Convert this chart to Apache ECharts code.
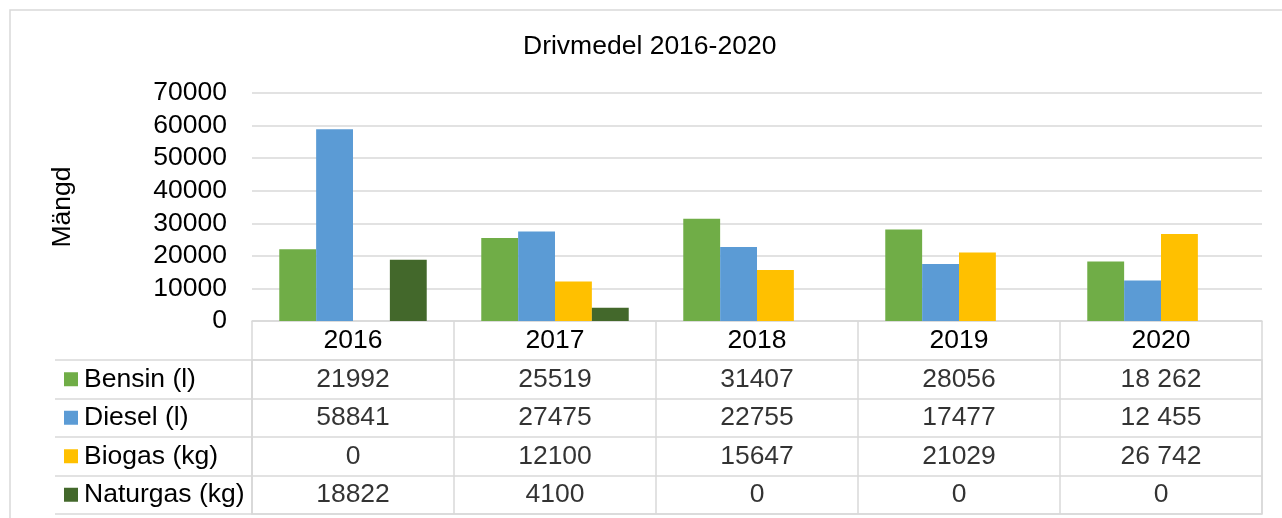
<!DOCTYPE html>
<html>
<head>
<meta charset="utf-8">
<script src="https://cdn.jsdelivr.net/npm/echarts@6/dist/echarts.min.js"></script>
<style>
html,body{margin:0;padding:0;background:#fff;}
#main{width:1282px;height:518px;}
</style>
</head>
<body>
<div id="main"></div>
<script>
var years = ['2016', '2017', '2018', '2019', '2020'];
var names = ['Bensin (l)', 'Diesel (l)', 'Biogas (kg)', 'Naturgas (kg)'];
var bensin = [21992, 25519, 31407, 28056, 18262];
var diesel = [58841, 27475, 22755, 17477, 12455];
var biogas = [0, 12100, 15647, 21029, 26742];
var naturgas = [18822, 4100, 0, 0, 0];
var colors = ['#70ad47', '#5b9bd5', '#ffc000', '#43682b'];
var yTicks = [0, 10000, 20000, 30000, 40000, 50000, 60000, 70000];

var rows = [bensin, diesel, biogas, naturgas];
var lineColor = '#d9d9d9';
var fs = 26.5;

// 2020 column is written with a space as thousands separator in the source
var fmt = function (v, j) {
    var s = String(v);
    if (years[j] == '2020' && s.length > 3) {
        s = s.slice(0, s.length - 3) + ' ' + s.slice(s.length - 3);
    }
    return s;
};

var cells = [];
for (var i = 0; i < rows.length; i++) {
    for (var j = 0; j < years.length; j++) {
        cells.push({ value: [j, i], text: fmt(rows[i][j], j) });
    }
}

var rich = { t: { fontSize: fs, color: '#000', padding: [0, 0, 0, 6] } };
for (var k = 0; k < colors.length; k++) {
    rich['s' + k] = { width: 14, height: 14, backgroundColor: colors[k] };
}

var barSeries = [];
for (var b = 0; b < rows.length; b++) {
    barSeries.push({
        name: names[b],
        type: 'bar',
        xAxisIndex: 0,
        yAxisIndex: 0,
        data: rows[b],
        barGap: 0,
        barCategoryGap: '27%',
        itemStyle: { color: colors[b] }
    });
}

var option = {
    animation: false,
    textStyle: { fontFamily: 'Liberation Sans, Arial, sans-serif' },
    title: {
        text: 'Drivmedel 2016-2020',
        left: 523,
        top: 33,
        padding: 0,
        textStyle: { fontSize: fs, fontWeight: 'normal', color: '#000' }
    },
    graphic: [{
        type: 'rect',
        shape: { x: 10, y: 10, width: 1300, height: 600 },
        style: { fill: 'none', stroke: lineColor, lineWidth: 1.5 },
        silent: true
    }],
    grid: [
        { left: 252, right: 20, top: 93, height: 228 },
        { left: 252, right: 20, top: 360, height: 154, show: true, borderColor: lineColor, borderWidth: 1.5 }
    ],
    xAxis: [
        {
            type: 'category',
            gridIndex: 0,
            data: years,
            axisLine: { lineStyle: { color: lineColor, width: 1.5 } },
            axisTick: { show: true, alignWithLabel: false, interval: 0, length: 39, lineStyle: { color: lineColor, width: 1.5 } },
            axisLabel: { fontSize: fs, color: '#000', margin: 20, verticalAlign: 'middle' }
        },
        {
            type: 'category',
            gridIndex: 1,
            data: years,
            axisLine: { show: false },
            axisTick: { show: false },
            axisLabel: { show: false },
            splitLine: { show: true, interval: 0, lineStyle: { color: lineColor, width: 1.5 } }
        }
    ],
    yAxis: [
        {
            type: 'value',
            gridIndex: 0,
            min: yTicks[0],
            max: yTicks[yTicks.length - 1],
            interval: yTicks[1] - yTicks[0],
            name: 'Mängd',
            nameLocation: 'middle',
            nameGap: 176,
            nameTextStyle: { fontSize: fs, color: '#000' },
            axisLabel: { fontSize: fs, color: '#000', margin: 25, formatter: function (v) { return String(v); } },
            splitLine: { lineStyle: { color: lineColor, width: 1.5 } }
        },
        {
            type: 'category',
            gridIndex: 1,
            inverse: true,
            data: names,
            axisLine: { show: true, lineStyle: { color: lineColor, width: 1.5 } },
            axisTick: { show: true, interval: 0, length: 197, lineStyle: { color: lineColor, width: 1.5 } },
            axisLabel: {
                align: 'left',
                margin: 188,
                formatter: function (value, idx) {
                    return '{s' + idx + '|}{t|' + value + '}';
                },
                rich: rich
            },
            splitLine: { show: true, interval: 0, lineStyle: { color: lineColor, width: 1.5 } }
        },
        {
            type: 'category',
            gridIndex: 1,
            inverse: true,
            data: names,
            offset: 197,
            axisLine: { show: true, lineStyle: { color: lineColor, width: 1.5 } },
            axisTick: { show: false },
            axisLabel: { show: false }
        }
    ],
    series: barSeries.concat([{
        type: 'scatter',
        xAxisIndex: 1,
        yAxisIndex: 1,
        symbolSize: 1,
        itemStyle: { color: 'rgba(0,0,0,0)' },
        data: cells,
        label: {
            show: true,
            position: 'inside',
            fontSize: fs,
            color: '#000',
            formatter: function (p) { return p.data.text; }
        }
    }])
};

var chart = echarts.init(document.getElementById('main'));
chart.setOption(option);
</script>
</body>
</html>
